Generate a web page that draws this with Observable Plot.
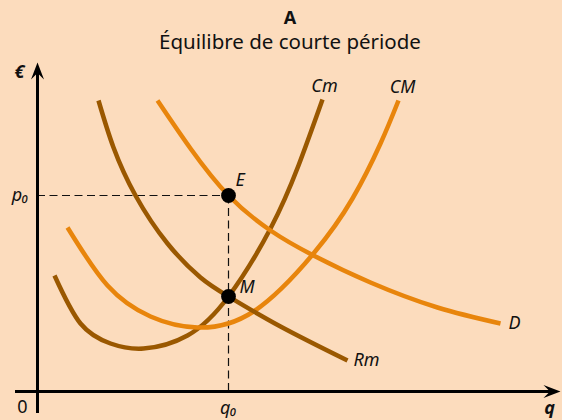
<!DOCTYPE html>
<html>
<head>
<meta charset="utf-8">
<script src="https://cdn.jsdelivr.net/npm/d3@7"></script>
<script src="https://cdn.jsdelivr.net/npm/@observablehq/plot@0.6"></script>
<style>
  body { margin: 0; background: #fcdcbd; font-family: "Noto Sans", sans-serif; }
  #wrap { width: 562px; height: 420px; overflow: hidden; }
  .t1 { height: 30px; line-height: 24px; padding-top: 5px; box-sizing: border-box; text-align: center; padding-left: 18px; font-weight: bold; font-size: 18px; color: #111; }
  .t2 { height: 22px; line-height: 22px; text-align: center; padding-left: 18px; font-size: 20.5px; color: #111; }
  svg { display: block; }
</style>
</head>
<body>
<div id="wrap">
  <div class="t1">A</div>
  <div class="t2">Équilibre de courte période</div>
  <div id="chart"></div>
</div>
<script>
// Curves: [q, price]
const cmCurve = [[17,116],[43,68],[73,48],[106,43],[150,56],[191,95],[233,163],[261,226],[285,292]];
const cMCurve = [[30,164],[70,106],[113,75],[160,64],[216,80],[276,138],[315,193],[343,248],[361,291]];
const dCurve  = [[120,291],[153,243],[191,196],[233,161],[276,136],[333,109],[400,84],[463,68]];
const rmCurve = [[61,291],[76,244],[98,196],[130,148],[163,114],[191,95],[243,65],[310,31]];

const q0 = 191, p0 = 196;
const pointE = {name: "E", q: q0, p: p0};
const pointM = {name: "M", q: q0, p: 95};
const axisExtent = {qMin: -22, qMax: 523, pMin: -22, pMax: 329};

const dark = "#9a5800", orange = "#e8850c";
const curves = [
  {name: "Cm", pts: cmCurve, color: dark},
  {name: "CM", pts: cMCurve, color: orange},
  {name: "D",  pts: dCurve,  color: orange},
  {name: "Rm", pts: rmCurve, color: dark}
];

// swept arrowhead, tip at the origin pointing up
const arrowHead = {
  draw(ctx) {
    const L = 17, w = 6.5;
    ctx.moveTo(0, 0);
    ctx.lineTo(w, L);
    ctx.lineTo(0, L * 0.62);
    ctx.lineTo(-w, L);
    ctx.closePath();
  }
};

const font = "Noto Sans, sans-serif";
const lastOf = c => c.pts[c.pts.length - 1];

const marks = [];
// dashed guides
marks.push(Plot.ruleY([p0], {x1: 0, x2: q0, stroke: "#111", strokeWidth: 1.2, strokeDasharray: "8,4.5"}));
marks.push(Plot.ruleX([q0], {y1: 0, y2: p0, stroke: "#111", strokeWidth: 1.2, strokeDasharray: "8,4.5"}));
// axes
marks.push(Plot.ruleY([0], {x1: axisExtent.qMin, x2: axisExtent.qMax - 8, stroke: "#000", strokeWidth: 3}));
marks.push(Plot.ruleX([0], {y1: axisExtent.pMin, y2: axisExtent.pMax - 8, stroke: "#000", strokeWidth: 3}));
marks.push(Plot.dot([{q: axisExtent.qMax, p: 0, r: 90}, {q: 0, p: axisExtent.pMax, r: 0}],
  {x: "q", y: "p", rotate: "r", symbol: arrowHead, fill: "#000", stroke: "none", r: 8}));
// curves
for (const c of curves) {
  marks.push(Plot.line(c.pts, {x: d => d[0], y: d => d[1], curve: "natural", stroke: c.color, strokeWidth: 4.5, strokeLinecap: "butt"}));
}
// points
marks.push(Plot.dot([pointE, pointM], {x: "q", y: "p", r: 7.4, fill: "#000"}));
marks.push(Plot.text([pointE], {x: "q", y: "p", text: "name", dx: 7, dy: -15, textAnchor: "start", fontStyle: "italic", fontSize: 18, fontFamily: font, fill: "#111"}));
marks.push(Plot.text([pointM], {x: "q", y: "p", text: "name", dx: 11, dy: -9, textAnchor: "start", fontStyle: "italic", fontSize: 18, fontFamily: font, fill: "#111"}));
// curve labels
const labelOffsets = {Cm: [2, -13, "middle"], CM: [4, -13, "middle"], D: [8, 0, "start"], Rm: [6, 0, "start"]};
for (const c of curves) {
  const [dx, dy, anchor] = labelOffsets[c.name];
  const e = lastOf(c);
  marks.push(Plot.text([{q: e[0], p: e[1], t: c.name}], {x: "q", y: "p", text: "t", dx, dy, textAnchor: anchor, fontStyle: "italic", fontSize: 18, fontFamily: font, fill: "#111"}));
}
// axis labels
marks.push(Plot.text([{q: 0, p: p0, t: "p₀"}], {x: "q", y: "p", text: "t", dx: -9, dy: 0, textAnchor: "end", fontStyle: "italic", fontSize: 18, fontFamily: font, fill: "#111"}));
marks.push(Plot.text([{q: q0, p: 0, t: "q₀"}], {x: "q", y: "p", text: "t", dx: 0, dy: 17, textAnchor: "middle", fontStyle: "italic", fontSize: 18, fontFamily: font, fill: "#111"}));
marks.push(Plot.text([{q: 0, p: 0, t: "0"}], {x: "q", y: "p", text: "t", dx: -15, dy: 16, textAnchor: "middle", fontSize: 18, fontFamily: font, fill: "#111"}));
marks.push(Plot.text([{q: axisExtent.qMax, p: 0, t: "q"}], {x: "q", y: "p", text: "t", dx: -11, dy: 17, textAnchor: "middle", fontStyle: "italic", fontWeight: "bold", fontSize: 18, fontFamily: font, fill: "#111"}));
marks.push(Plot.text([{q: 0, p: axisExtent.pMax, t: "€"}], {x: "q", y: "p", text: "t", dx: -18, dy: 10, textAnchor: "middle", fontStyle: "italic", fontWeight: "bold", fontSize: 18, fontFamily: font, fill: "#111"}));

const chart = Plot.plot({
  width: 562,
  height: 368,
  margin: 0,
  x: {domain: [0, 520], range: [37, 557], axis: null},
  y: {domain: [0, 330], range: [339, 9], axis: null},
  style: {background: "transparent", overflow: "visible", fontFamily: font},
  marks
});
document.getElementById("chart").appendChild(chart);
</script>
</body>
</html>
